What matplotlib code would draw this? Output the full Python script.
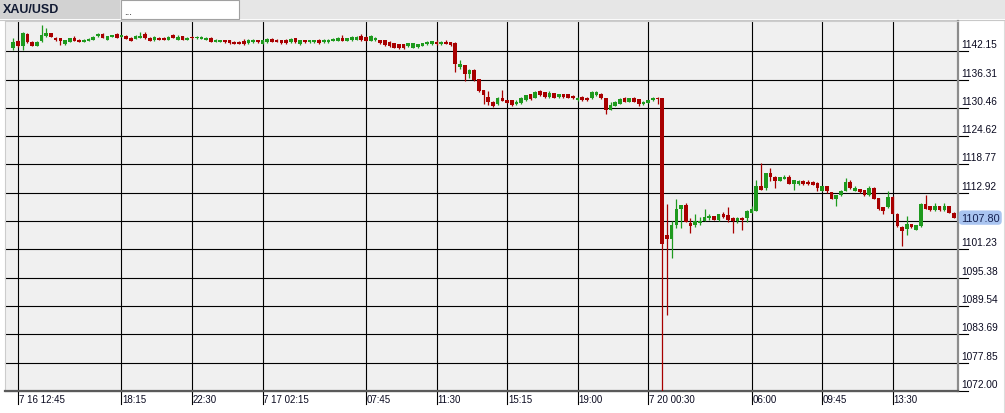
import matplotlib
matplotlib.use("Agg")
import matplotlib.pyplot as plt
import matplotlib.transforms as mtransforms
from matplotlib.patches import Rectangle
import numpy as np

# XAU/USD 15 minute candles, first candle sits one slot left of the first label
symbol = "XAU/USD"
first_slot = -1

opens = [
    1142.75, 1144.26, 1143.30, 1145.77, 1144.12, 1143.30, 1144.26, 1145.22, 1145.91, 1144.95,
    1144.81, 1143.57, 1144.12, 1144.81, 1144.53, 1144.12, 1144.26, 1144.53, 1145.22, 1145.77,
    1144.53, 1145.08, 1145.64, 1145.08, 1145.36, 1144.95, 1144.67, 1144.95, 1145.64, 1144.95,
    1144.40, 1144.95, 1144.95, 1144.53, 1145.50, 1144.53, 1145.22, 1144.53, 1145.08, 1144.81,
    1144.67, 1144.53, 1144.95, 1144.12, 1144.12, 1144.40, 1144.40, 1144.12, 1144.12, 1144.26,
    1143.85, 1143.98, 1144.40, 1143.71, 1143.98, 1144.67, 1144.53, 1144.40, 1144.40, 1143.98,
    1144.81, 1143.57, 1144.40, 1143.98, 1143.98, 1144.53, 1143.98, 1143.98, 1144.26, 1144.26,
    1144.95, 1144.26, 1144.40, 1144.53, 1145.22, 1145.08, 1144.26, 1144.40, 1144.40, 1144.40,
    1144.12, 1143.85, 1143.57, 1143.57, 1143.16, 1142.88, 1143.02, 1143.30, 1143.57, 1143.57,
    1144.12, 1143.60, 1144.10, 1144.00, 1143.85, 1139.00, 1139.30, 1137.40, 1138.35, 1136.40,
    1134.10, 1132.80, 1131.70, 1131.20, 1132.60, 1132.00, 1132.00, 1131.20, 1131.50, 1132.00,
    1133.30, 1132.60, 1133.90, 1133.70, 1132.70, 1133.50, 1132.70, 1133.30, 1133.30, 1133.00,
    1132.00, 1132.70, 1132.60, 1132.40, 1133.10, 1133.40, 1132.40, 1130.10, 1130.90, 1131.30,
    1132.40, 1131.70, 1132.60, 1132.20, 1131.20, 1131.50, 1132.00, 1132.60, 1132.40, 1104.20,
    1103.30, 1106.20, 1109.50, 1110.40, 1106.70, 1106.30, 1106.60, 1107.10, 1107.70, 1108.10,
    1107.40, 1108.60, 1108.30, 1107.80, 1107.10, 1107.80, 1107.80, 1108.80, 1109.20, 1114.40,
    1114.00, 1117.00, 1116.20, 1115.40, 1115.80, 1116.20, 1114.70, 1114.70, 1115.40, 1115.20,
    1115.20, 1115.00, 1113.30, 1114.30, 1113.00, 1111.70, 1112.40, 1113.30, 1115.20, 1113.30,
    1113.70, 1113.50, 1112.40, 1114.00, 1111.80, 1109.90, 1109.90, 1112.10, 1108.60, 1105.90,
    1105.50, 1106.40, 1105.30, 1106.00, 1110.70, 1110.20, 1109.30, 1110.20, 1109.30, 1110.20,
    1108.80,
]
closes = [
    1144.12, 1143.30, 1145.91, 1143.98, 1143.30, 1144.12, 1145.50, 1145.91, 1145.08, 1144.40,
    1144.26, 1144.40, 1144.81, 1144.26, 1144.12, 1144.53, 1144.67, 1145.08, 1145.77, 1144.95,
    1145.22, 1145.50, 1144.95, 1145.50, 1144.67, 1144.26, 1145.36, 1145.36, 1144.81, 1144.26,
    1145.08, 1144.53, 1144.53, 1145.08, 1144.95, 1145.08, 1144.53, 1144.95, 1144.81, 1145.08,
    1145.08, 1144.95, 1144.12, 1144.53, 1144.40, 1143.98, 1143.85, 1143.71, 1143.71, 1143.57,
    1144.53, 1144.53, 1143.98, 1144.40, 1144.67, 1144.12, 1144.12, 1143.85, 1143.85, 1144.67,
    1143.98, 1144.40, 1143.98, 1144.40, 1144.40, 1143.85, 1144.53, 1144.53, 1144.67, 1144.95,
    1144.26, 1144.81, 1145.08, 1145.08, 1144.40, 1144.26, 1145.36, 1144.95, 1143.85, 1143.43,
    1143.16, 1142.88, 1142.75, 1142.75, 1143.85, 1143.85, 1143.57, 1143.85, 1144.12, 1144.26,
    1143.57, 1144.10, 1143.70, 1143.40, 1139.45, 1139.45, 1137.40, 1138.20, 1136.30, 1133.90,
    1133.10, 1131.70, 1130.90, 1132.60, 1131.90, 1131.50, 1131.00, 1131.70, 1132.60, 1133.10,
    1132.20, 1133.80, 1133.10, 1132.70, 1133.50, 1132.60, 1133.30, 1132.70, 1132.60, 1132.40,
    1132.60, 1132.00, 1132.00, 1133.80, 1133.80, 1132.40, 1130.10, 1131.10, 1131.70, 1132.30,
    1131.70, 1132.40, 1131.70, 1131.20, 1131.70, 1132.00, 1132.60, 1132.20, 1102.30, 1103.30,
    1106.30, 1109.50, 1110.40, 1106.90, 1106.00, 1107.10, 1107.10, 1107.90, 1108.20, 1107.40,
    1108.50, 1107.90, 1107.40, 1107.10, 1107.80, 1107.40, 1109.20, 1109.50, 1114.30, 1113.60,
    1117.00, 1116.20, 1115.40, 1116.10, 1116.20, 1114.80, 1115.50, 1115.40, 1114.70, 1114.70,
    1114.60, 1113.90, 1114.30, 1113.30, 1111.70, 1112.40, 1113.20, 1115.10, 1113.90, 1113.90,
    1113.00, 1112.40, 1114.00, 1111.70, 1109.50, 1109.20, 1112.10, 1108.60, 1106.00, 1105.10,
    1106.40, 1105.80, 1106.20, 1110.70, 1109.60, 1109.30, 1110.20, 1109.30, 1110.20, 1108.80,
    1107.80,
]
highs = [
    1144.81, 1144.50, 1146.05, 1145.91, 1144.30, 1144.30, 1147.56, 1146.87, 1146.00, 1145.10,
    1144.90, 1144.50, 1144.90, 1145.20, 1144.60, 1144.60, 1144.80, 1145.20, 1145.90, 1145.90,
    1145.30, 1145.60, 1146.00, 1145.60, 1145.50, 1145.00, 1145.50, 1146.05, 1146.05, 1145.00,
    1145.20, 1145.00, 1145.00, 1145.20, 1145.77, 1145.50, 1145.40, 1145.00, 1145.20, 1145.20,
    1145.20, 1145.00, 1145.00, 1144.60, 1144.50, 1144.50, 1144.50, 1144.20, 1144.20, 1144.60,
    1144.60, 1144.60, 1144.50, 1144.50, 1144.80, 1144.80, 1144.60, 1144.50, 1144.67, 1144.80,
    1144.90, 1144.50, 1144.50, 1144.50, 1144.50, 1144.60, 1144.60, 1144.60, 1144.80, 1145.00,
    1145.50, 1144.90, 1145.20, 1145.20, 1145.64, 1145.20, 1145.50, 1145.00, 1144.50, 1144.50,
    1144.20, 1143.90, 1143.60, 1143.60, 1143.90, 1143.90, 1143.70, 1143.90, 1144.20, 1144.30,
    1144.40, 1144.20, 1144.40, 1144.10, 1144.00, 1140.40, 1139.40, 1138.40, 1138.50, 1136.50,
    1134.20, 1133.90, 1131.80, 1132.70, 1134.20, 1132.10, 1132.10, 1132.10, 1132.70, 1133.20,
    1133.40, 1133.90, 1134.20, 1133.80, 1133.90, 1133.60, 1133.40, 1133.40, 1133.40, 1133.10,
    1132.70, 1133.00, 1132.70, 1133.90, 1133.90, 1133.50, 1132.50, 1131.70, 1131.80, 1132.40,
    1132.80, 1132.50, 1132.80, 1132.30, 1131.80, 1132.10, 1132.70, 1132.70, 1132.60, 1110.60,
    1107.20, 1111.70, 1110.50, 1110.80, 1107.80, 1108.50, 1108.00, 1109.50, 1108.50, 1108.20,
    1108.60, 1108.90, 1109.90, 1107.90, 1107.90, 1107.90, 1109.30, 1110.10, 1115.60, 1119.10,
    1117.10, 1118.10, 1116.30, 1116.20, 1116.60, 1116.60, 1115.60, 1115.50, 1115.50, 1115.60,
    1115.30, 1115.10, 1114.40, 1114.40, 1113.10, 1112.50, 1113.50, 1115.90, 1115.50, 1114.30,
    1113.80, 1113.60, 1114.30, 1114.10, 1111.90, 1110.00, 1113.30, 1112.20, 1108.70, 1106.00,
    1108.20, 1106.50, 1106.30, 1110.80, 1112.40, 1110.30, 1110.80, 1110.30, 1110.80, 1110.30,
    1108.90,
]
lows = [
    1142.47, 1143.10, 1142.47, 1143.80, 1143.20, 1143.20, 1143.98, 1145.10, 1145.00, 1144.30,
    1143.43, 1143.50, 1144.00, 1144.20, 1144.00, 1144.00, 1144.20, 1144.40, 1145.10, 1144.80,
    1144.40, 1145.00, 1144.80, 1145.00, 1144.60, 1144.20, 1144.60, 1144.90, 1144.70, 1144.20,
    1144.30, 1144.40, 1144.40, 1144.40, 1144.80, 1144.40, 1144.40, 1144.40, 1144.70, 1144.70,
    1144.60, 1144.40, 1144.00, 1144.00, 1144.00, 1143.90, 1143.70, 1143.60, 1143.60, 1143.50,
    1143.70, 1143.90, 1143.90, 1143.60, 1143.90, 1144.00, 1144.00, 1143.70, 1143.70, 1143.90,
    1143.90, 1143.50, 1143.90, 1143.90, 1143.90, 1143.70, 1143.90, 1143.90, 1144.20, 1144.20,
    1144.20, 1144.20, 1144.30, 1144.40, 1144.30, 1144.20, 1144.20, 1144.30, 1143.70, 1143.30,
    1143.10, 1142.80, 1142.70, 1142.60, 1143.10, 1142.80, 1142.90, 1143.20, 1143.50, 1143.50,
    1143.50, 1143.50, 1143.60, 1143.30, 1137.80, 1138.50, 1136.10, 1136.60, 1136.00, 1133.80,
    1131.20, 1131.00, 1130.60, 1131.00, 1131.80, 1131.40, 1130.90, 1131.10, 1131.20, 1131.90,
    1132.10, 1132.50, 1133.00, 1132.60, 1132.60, 1132.50, 1132.60, 1132.60, 1132.50, 1132.30,
    1131.90, 1131.80, 1131.90, 1132.30, 1133.00, 1132.30, 1129.30, 1130.00, 1130.80, 1131.20,
    1131.60, 1131.60, 1131.60, 1130.80, 1131.10, 1131.40, 1131.90, 1131.20, 1072.00, 1087.60,
    1099.40, 1105.70, 1105.70, 1106.80, 1104.60, 1105.90, 1106.20, 1107.00, 1107.40, 1107.30,
    1107.00, 1107.80, 1106.90, 1104.60, 1106.60, 1105.20, 1106.90, 1108.70, 1109.10, 1113.50,
    1113.50, 1115.40, 1113.90, 1115.30, 1115.70, 1114.70, 1113.60, 1114.60, 1114.60, 1114.60,
    1114.50, 1113.20, 1113.20, 1112.90, 1111.60, 1110.30, 1112.30, 1113.20, 1113.80, 1113.20,
    1112.90, 1112.30, 1112.30, 1111.60, 1109.40, 1108.50, 1109.80, 1108.50, 1105.90, 1101.90,
    1104.20, 1105.70, 1105.20, 1105.90, 1109.50, 1109.20, 1109.20, 1109.20, 1109.20, 1108.70,
    1107.70,
]

time_labels = ["7 16 12:45", "18:15", "22:30", "7 17 02:15", "07:45", "11:30",
               "15:15", "19:00", "7 20 00:30", "06:00", "09:45", "13:30"]
label_slots = [0, 22, 37, 52, 74, 89, 104, 119, 134, 156, 171, 186]
price_ticks = [1072.00, 1077.85, 1083.69, 1089.54, 1095.38, 1101.23, 1107.08,
               1112.92, 1118.77, 1124.62, 1130.46, 1136.31, 1142.15]
last_price = 1107.80

GREEN = "#1e9a1e"
RED = "#a80000"
W, H = 1005, 414

plt.rcParams["font.family"] = ["Liberation Sans", "DejaVu Sans"]


def px_box(x0, y0, x1, y1):
    return [x0 / W, 1 - y1 / H, (x1 - x0) / W, (y1 - y0) / H]


fig = plt.figure(figsize=(W / 100, H / 100), dpi=100)
fig.patch.set_facecolor("white")

# tab strip on top, drawn in pixel coordinates
bg = fig.add_axes([0, 0, 1, 1], zorder=0)
bg.set_xlim(0, W)
bg.set_ylim(H, 0)
bg.axis("off")
bg.add_patch(Rectangle((0, 0), W, 20, fc="#e6e6e6", ec="none"))
bg.add_patch(Rectangle((0, 0), 120, 20, fc="#d2d2d2", ec="none"))
bg.add_patch(Rectangle((120.5, 0.5), 118, 19, fc="white", ec="#a0a0a0", lw=0.8))
bg.plot([0, W], [20.5, 20.5], color="#c8c8c8", lw=0.8)
bg.plot([1003.5, 1003.5], [22, H], color="#dddddd", lw=0.8)
bg.text(3, 10, symbol, fontsize=9, fontweight="bold", color="#111a33", va="center", ha="left")
bg.text(124, 12, "...", fontsize=7, color="#111111", va="center", ha="left")

ax = fig.add_axes(px_box(5, 22, 958, 392), zorder=1)
ax.set_facecolor("#f0f0f0")

o = np.array(opens)
c = np.array(closes)
slots = np.arange(first_slot, first_slot + len(o))
colors = np.where(c >= o, GREEN, RED)

ax.vlines(slots, lows, highs, colors=colors, linewidth=0.9, zorder=3)
ax.bar(slots, np.maximum(np.abs(c - o), 0.2), 0.78, bottom=np.minimum(o, c),
       color=colors, linewidth=0, zorder=4)

ax.set_xlim(-2.77, 199.9)
ax.set_ylim(1072.0, 1148.4)
ax.set_xticks([])
ax.set_yticks([])

yt = mtransforms.blended_transform_factory(ax.transAxes, ax.transData)
xt = mtransforms.blended_transform_factory(ax.transData, ax.transAxes)

# horizontal grid, running a little past the right edge as tick marks
for v in price_ticks:
    ax.plot([0, 1.0105], [v, v], color="black", lw=0.8, transform=yt, clip_on=False, zorder=2)
    # the label of the grid line under the last price box is hidden by the box
    if abs(v - last_price) > 2:
        ax.text(1.0031, v, f"{v:.2f}", fontsize=7.3, color="#0a0a20", ha="left", va="baseline",
                transform=mtransforms.offset_copy(yt, fig=fig, y=4, units="dots"))

# vertical grid with ticks below the axis
for s, lab in zip(label_slots, time_labels):
    ax.plot([s, s], [-0.035, 1], color="black", lw=0.8, transform=xt, clip_on=False, zorder=2)
    ax.text(s + 0.2, -0.008, lab, fontsize=7, color="#0a0a20", ha="left", va="top", transform=xt)

ax.text(1.0031, last_price, f"{last_price:.2f}", fontsize=7.8, color="#142050",
        ha="left", va="center", transform=yt, zorder=10,
        bbox=dict(boxstyle="round,pad=0.2,rounding_size=0.35", fc="#a9c4f0", ec="none"))

for side in ["left", "top"]:
    ax.spines[side].set_color("#cccccc")
    ax.spines[side].set_linewidth(0.8)
ax.spines["right"].set_color("#8c8c8c")
ax.spines["right"].set_linewidth(1.6)
ax.spines["bottom"].set_color("#5a5a5a")
ax.spines["bottom"].set_linewidth(1.6)

fig.savefig("out.png", dpi=100, facecolor=fig.get_facecolor())
